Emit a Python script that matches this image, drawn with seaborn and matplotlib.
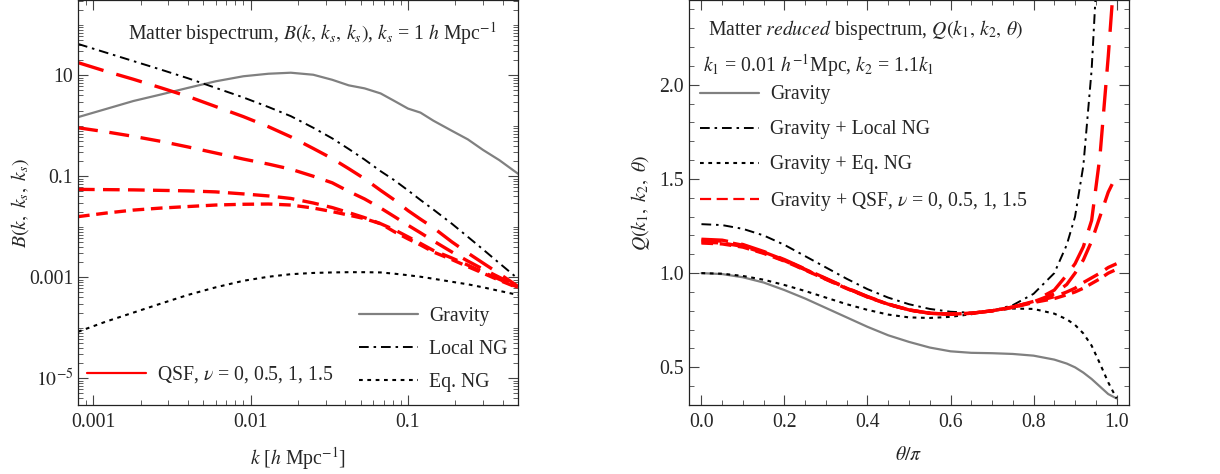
import numpy as np
import matplotlib
matplotlib.use("Agg")
import matplotlib.pyplot as plt
import matplotlib.ticker as mticker
from matplotlib.lines import Line2D
import seaborn as sns

sns.set_theme(style="ticks")
plt.rcParams["font.family"] = ["Liberation Serif", "DejaVu Serif"]
plt.rcParams["mathtext.fontset"] = "stix"
FS = 14.2

# ── Left panel: B(k, ks, ks), values as log10 B ──
k = [0.0008, 0.0012, 0.0018, 0.0027, 0.004, 0.006, 0.009, 0.013, 0.018, 0.025,
     0.033, 0.042, 0.053, 0.067, 0.082, 0.1, 0.12, 0.145, 0.19, 0.24, 0.3, 0.38, 0.5]
logB_gravity = [0.17, 0.33, 0.49, 0.62, 0.75, 0.88, 0.98, 1.03, 1.05, 1.01,
                0.91, 0.80, 0.74, 0.64, 0.49, 0.34, 0.26, 0.10, -0.10, -0.27, -0.48, -0.68, -0.95]
logB_local = [1.62, 1.45, 1.28, 1.11, 0.94, 0.75, 0.56, 0.37, 0.19, -0.04,
              -0.25, -0.46, -0.67, -0.90, -1.08, -1.28, -1.47, -1.66, -1.94, -2.20, -2.45, -2.72, -3.03]
logB_eq = [-4.08, -3.88, -3.70, -3.52, -3.35, -3.20, -3.07, -2.99, -2.94, -2.915,
           -2.905, -2.90, -2.90, -2.905, -2.93, -2.96, -2.99, -3.03, -3.09, -3.14, -3.20, -3.27, -3.35]
logB_qsf = [
    [1.25, 1.08, 0.92, 0.75, 0.58, 0.38, 0.18, -0.02, -0.22, -0.45,
     -0.65, -0.85, -1.05, -1.28, -1.47, -1.68, -1.85, -2.02, -2.30, -2.52, -2.72, -2.93, -3.18],
    [-0.04, -0.12, -0.21, -0.31, -0.42, -0.54, -0.66, -0.76, -0.86, -1.00,
     -1.13, -1.30, -1.45, -1.63, -1.80, -1.97, -2.12, -2.28, -2.50, -2.68, -2.84, -3.00, -3.19],
    [-1.26, -1.265, -1.27, -1.28, -1.29, -1.31, -1.35, -1.39, -1.44, -1.53,
     -1.62, -1.72, -1.82, -1.94, -2.06, -2.20, -2.33, -2.47, -2.62, -2.76, -2.90, -3.04, -3.20],
    [-1.80, -1.73, -1.67, -1.63, -1.60, -1.57, -1.555, -1.55, -1.57, -1.63,
     -1.70, -1.77, -1.84, -1.94, -2.10, -2.24, -2.36, -2.50, -2.65, -2.79, -2.92, -3.06, -3.21],
]

# ── Right panel: Q(k1, k2, theta) ──
theta = [0, 0.05, 0.1, 0.15, 0.2, 0.25, 0.3, 0.35, 0.4, 0.45, 0.5, 0.55, 0.6,
         0.65, 0.7, 0.75, 0.8, 0.85, 0.88, 0.9, 0.92, 0.94, 0.96, 0.98, 1.0]
Q_gravity = [1.0, 0.995, 0.978, 0.95, 0.91, 0.865, 0.815, 0.765, 0.715, 0.67, 0.635, 0.605, 0.585,
             0.577, 0.575, 0.571, 0.562, 0.541, 0.52, 0.5, 0.472, 0.438, 0.398, 0.358, 0.335]
Q_local = [1.26, 1.255, 1.235, 1.2, 1.15, 1.09, 1.03, 0.97, 0.915, 0.87, 0.835, 0.81, 0.795,
           0.79, 0.80, 0.83, 0.89, 1.0, 1.15, 1.30, 1.57, 2.08, 2.9, np.nan, np.nan]
Q_eq = [1.0, 0.997, 0.985, 0.965, 0.937, 0.905, 0.87, 0.835, 0.805, 0.78, 0.765, 0.762, 0.768,
        0.782, 0.80, 0.812, 0.81, 0.785, 0.755, 0.725, 0.68, 0.615, 0.52, 0.42, 0.335]
Q_qsf = [
    [1.18, 1.175, 1.152, 1.115, 1.072, 1.022, 0.972, 0.922, 0.876, 0.836, 0.805, 0.787, 0.782,
     0.787, 0.80, 0.82, 0.85, 0.91, 0.99, 1.05, 1.14, 1.28, 1.62, 2.15, 2.75],
    [1.175, 1.17, 1.148, 1.112, 1.07, 1.02, 0.97, 0.92, 0.875, 0.835, 0.805, 0.787, 0.782,
     0.787, 0.80, 0.82, 0.848, 0.89, 0.94, 1.0, 1.07, 1.17, 1.30, 1.43, 1.52],
    [1.165, 1.16, 1.142, 1.108, 1.066, 1.018, 0.968, 0.92, 0.874, 0.835, 0.805, 0.787, 0.782,
     0.787, 0.80, 0.82, 0.846, 0.875, 0.90, 0.92, 0.95, 0.975, 1.0, 1.03, 1.05],
    [1.16, 1.155, 1.138, 1.105, 1.064, 1.016, 0.967, 0.918, 0.873, 0.834, 0.804, 0.787, 0.782,
     0.787, 0.80, 0.818, 0.844, 0.865, 0.885, 0.90, 0.92, 0.945, 0.97, 1.0, 1.02],
]

RED = "#ff0000"
GRAY = "#808080"
DASHDOT = (0, (5, 2.5, 1.3, 2.5))
DOTTED = (0, (1.8, 2.2))
qsf_dashes = [(8, 4), (6, 3.5), (5, 2.5), (3.5, 2)]

fig = plt.figure(figsize=(12.2, 4.74), dpi=100)
axL = fig.add_axes([78 / 1220, 69 / 474, 440 / 1220, 405 / 474])
axR = fig.add_axes([689 / 1220, 69 / 474, 440 / 1220, 405 / 474])


def style_axis(ax):
    for s in ax.spines.values():
        s.set_linewidth(0.9)
        s.set_color("#222222")
    ax.tick_params(which="both", direction="in", top=True, right=True,
                   color="#444444", labelsize=FS)
    ax.tick_params(axis="x", which="both", pad=6)
    ax.tick_params(axis="y", which="both", pad=3.5)
    ax.tick_params(which="major", length=7, width=0.8)
    ax.tick_params(which="minor", length=3.5, width=0.6)


def leg_kw(y_top, x0, spacing):
    return dict(loc="upper left", bbox_to_anchor=(x0, y_top), frameon=False, fontsize=FS,
                handlelength=3.0, handletextpad=0.55, labelspacing=spacing,
                borderpad=0, borderaxespad=0)


# Left panel
sns.lineplot(x=k, y=10 ** np.array(logB_gravity), ax=axL, color=GRAY, lw=1.6)
sns.lineplot(x=k, y=10 ** np.array(logB_local), ax=axL, color="black", lw=1.4, linestyle=DASHDOT)
sns.lineplot(x=k, y=10 ** np.array(logB_eq), ax=axL, color="black", lw=1.5, linestyle=DOTTED)
for vals, d in zip(logB_qsf, qsf_dashes):
    sns.lineplot(x=k, y=10 ** np.array(vals), ax=axL, color=RED, lw=2.4, linestyle=(0, d))
axL.set_xscale("log")
axL.set_yscale("log")
axL.set_xlim(0.0008, 0.5)
axL.set_ylim(10 ** -5.53, 10 ** 2.49)
axL.xaxis.set_major_locator(mticker.FixedLocator([0.001, 0.01, 0.1]))
axL.xaxis.set_major_formatter(mticker.FixedFormatter(["0.001", "0.01", "0.1"]))
axL.xaxis.set_minor_locator(mticker.LogLocator(base=10, subs=np.arange(2, 10)))
axL.xaxis.set_minor_formatter(mticker.NullFormatter())
axL.yaxis.set_major_locator(mticker.FixedLocator([1e-5, 1e-3, 1e-1, 10]))
axL.yaxis.set_major_formatter(mticker.FixedFormatter([r"$10^{-5}$", "0.001", "0.1", "10"]))
axL.yaxis.set_minor_locator(mticker.LogLocator(base=10, subs=np.arange(1, 10), numticks=30))
axL.yaxis.set_minor_formatter(mticker.NullFormatter())
style_axis(axL)
axL.set_xlabel(r"$k$ [$h$ Mpc$^{-1}$]", fontsize=FS)
axL.set_ylabel(r"$B(k,\ k_s,\ k_s)$", fontsize=FS)
axL.xaxis.set_label_coords(0.5, -0.098)
axL.yaxis.set_label_coords(-0.107, 0.5)
axL.text(0.114, 0.918, r"Matter bispectrum, $B(k,\,k_s,\,k_s)$, $k_s$ = 1 $h$ Mpc$^{-1}$",
         transform=axL.transAxes, fontsize=FS, va="center")

h_left = [Line2D([], [], color=GRAY, lw=1.6),
          Line2D([], [], color="black", lw=1.4, linestyle=DASHDOT),
          Line2D([], [], color="black", lw=1.5, linestyle=DOTTED)]
leg1 = axL.legend(h_left, ["Gravity", "Local NG", "Eq. NG"], **leg_kw(0.241, 0.639, 0.7))
axL.add_artist(leg1)
axL.legend([Line2D([], [], color=RED, lw=1.6)], [r"QSF, $\nu$ = 0, 0.5, 1, 1.5"],
           **leg_kw(0.10, 0.02, 0.5))

# Right panel
sns.lineplot(x=theta, y=Q_gravity, ax=axR, color=GRAY, lw=1.6)
sns.lineplot(x=theta, y=Q_local, ax=axR, color="black", lw=1.4, linestyle=DASHDOT)
sns.lineplot(x=theta, y=Q_eq, ax=axR, color="black", lw=1.5, linestyle=DOTTED)
for vals, d in zip(Q_qsf, qsf_dashes):
    sns.lineplot(x=theta, y=vals, ax=axR, color=RED, lw=2.4, linestyle=(0, d))
axR.set_xlim(-0.03, 1.03)
axR.set_ylim(0.3, 2.45)
axR.xaxis.set_major_locator(mticker.MultipleLocator(0.2))
axR.xaxis.set_major_formatter(mticker.FormatStrFormatter("%.1f"))
axR.xaxis.set_minor_locator(mticker.MultipleLocator(0.05))
axR.yaxis.set_major_locator(mticker.MultipleLocator(0.5))
axR.yaxis.set_major_formatter(mticker.FormatStrFormatter("%.1f"))
axR.yaxis.set_minor_locator(mticker.MultipleLocator(0.1))
style_axis(axR)
axR.set_xlabel(r"$\theta/\pi$", fontsize=FS)
axR.set_ylabel(r"$Q(k_1,\ k_2,\ \theta)$", fontsize=FS)
axR.xaxis.set_label_coords(0.5, -0.1)
axR.yaxis.set_label_coords(-0.083, 0.5)
axR.text(0.043, 0.926, r"Matter $\it{reduced}$ bispectrum, $Q(k_1,\,k_2,\,\theta)$",
         transform=axR.transAxes, fontsize=FS, va="center")
axR.text(0.032, 0.837, r"$k_1$ = 0.01 $h^{-1}$Mpc, $k_2$ = 1.1$k_1$",
         transform=axR.transAxes, fontsize=FS, va="center")
h_right = [Line2D([], [], color=GRAY, lw=1.6),
           Line2D([], [], color="black", lw=1.4, linestyle=DASHDOT),
           Line2D([], [], color="black", lw=1.5, linestyle=DOTTED),
           Line2D([], [], color=RED, lw=1.6, linestyle=(0, (5, 2.5)))]
axR.legend(h_right, ["Gravity", "Gravity + Local NG", "Gravity + Eq. NG",
                     r"Gravity + QSF, $\nu$ = 0, 0.5, 1, 1.5"],
           **leg_kw(0.789, 0.025, 0.81))

fig.savefig("out.png", dpi=100)
